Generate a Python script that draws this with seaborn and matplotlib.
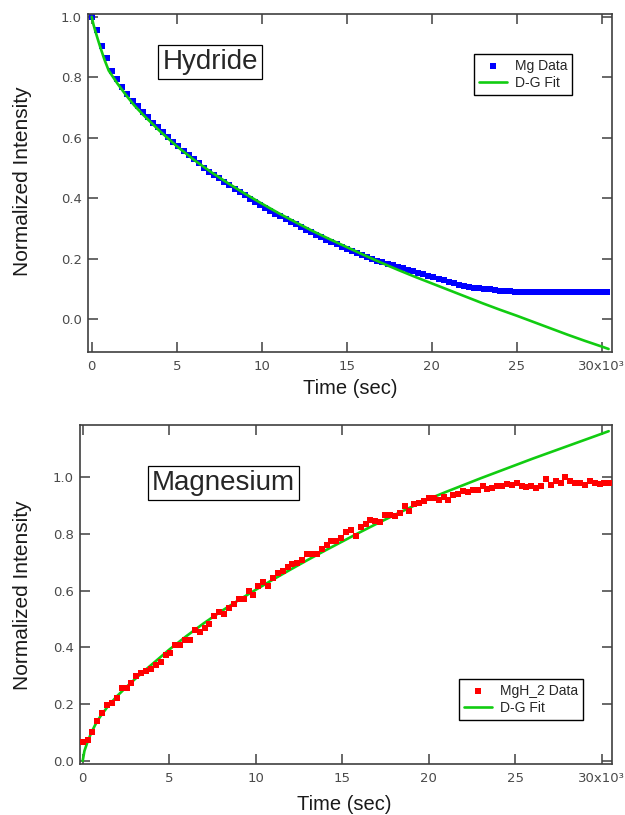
import numpy as np
import pandas as pd
import seaborn as sns
import matplotlib.pyplot as plt

# ---- top panel: hydride decay (normalized intensity), samples every ~300 s
hyd_values = [1.000, 0.955, 0.902, 0.862, 0.822, 0.793, 0.768, 0.745, 0.722, 0.704,
              0.686, 0.667, 0.649, 0.634, 0.618, 0.602, 0.587, 0.572, 0.557, 0.543,
              0.529, 0.515, 0.501, 0.488, 0.478, 0.466, 0.454, 0.442, 0.431, 0.420,
              0.409, 0.398, 0.388, 0.378, 0.368, 0.359, 0.349, 0.340, 0.331, 0.322,
              0.313, 0.304, 0.296, 0.287, 0.279, 0.271, 0.263, 0.255, 0.247, 0.239,
              0.232, 0.225, 0.218, 0.212, 0.206, 0.200, 0.193, 0.188, 0.183, 0.178,
              0.173, 0.168, 0.163, 0.158, 0.153, 0.148, 0.143, 0.138, 0.134, 0.129,
              0.124, 0.119, 0.113, 0.108, 0.106, 0.104, 0.102, 0.100, 0.098, 0.096,
              0.094, 0.093, 0.092, 0.091, 0.090, 0.090, 0.090, 0.090, 0.090, 0.090,
              0.090, 0.090, 0.090, 0.090, 0.090, 0.090, 0.090, 0.090, 0.090, 0.090,
              0.090, 0.090]
hyd_last_t = 30300

# D-G fit curve, time in 10^3 s
hyd_fit_t = [0, 0.1, 0.2, 0.35, 0.5, 0.75, 1.0, 1.5, 2.0, 2.5, 3.0, 4.0, 5.0, 6, 7, 8, 9,
             10, 11, 12, 13, 14, 15, 16, 17, 18, 19, 20, 21, 22, 23, 24, 25, 26, 27,
             28, 29, 30, 30.4]
hyd_fit_v = [1.0, 0.975, 0.955, 0.927, 0.900, 0.858, 0.822, 0.780, 0.742, 0.707, 0.677,
             0.622, 0.572, 0.527, 0.487, 0.450, 0.415, 0.382, 0.350, 0.320, 0.291,
             0.264, 0.238, 0.212, 0.187, 0.163, 0.140, 0.118, 0.096, 0.074, 0.052,
             0.031, 0.011, -0.010, -0.031, -0.052, -0.072, -0.091, -0.099]

# ---- bottom panel: magnesium growth
mg_values = [0.068, 0.074, 0.103, 0.141, 0.167, 0.196, 0.205, 0.220, 0.258, 0.257,
             0.275, 0.298, 0.308, 0.316, 0.325, 0.337, 0.348, 0.372, 0.380, 0.407,
             0.409, 0.427, 0.425, 0.461, 0.455, 0.469, 0.482, 0.512, 0.526, 0.518,
             0.540, 0.552, 0.571, 0.571, 0.600, 0.583, 0.618, 0.631, 0.616, 0.643,
             0.663, 0.669, 0.683, 0.695, 0.698, 0.709, 0.729, 0.729, 0.729, 0.746,
             0.762, 0.776, 0.776, 0.786, 0.806, 0.812, 0.794, 0.826, 0.836, 0.850,
             0.845, 0.841, 0.865, 0.865, 0.862, 0.874, 0.898, 0.881, 0.905, 0.909,
             0.916, 0.925, 0.925, 0.921, 0.931, 0.921, 0.937, 0.939, 0.952, 0.949,
             0.955, 0.955, 0.969, 0.957, 0.961, 0.969, 0.969, 0.976, 0.973, 0.979,
             0.969, 0.964, 0.969, 0.961, 0.969, 0.993, 0.973, 0.988, 0.979, 1.002,
             0.988, 0.979, 0.981, 0.973, 0.988, 0.979, 0.976, 0.978, 0.981]
mg_last_t = 30440

mg_fit_t = [0, 0.1, 0.25, 0.5, 0.75, 1.0, 1.5, 2.0, 2.5, 3.0, 3.5, 4.0, 4.5, 5, 6, 7, 8,
            9, 10, 11, 12, 13, 14, 15, 16, 17, 18, 19, 20, 21, 22, 23, 24, 25, 26, 27,
            28, 29, 30, 30.4]
mg_fit_v = [0.000, 0.035, 0.062, 0.100, 0.130, 0.155, 0.196, 0.229, 0.259, 0.287, 0.314,
            0.340, 0.366, 0.392, 0.440, 0.485, 0.527, 0.566, 0.603, 0.639, 0.674, 0.708,
            0.741, 0.773, 0.805, 0.836, 0.866, 0.895, 0.923, 0.948, 0.972, 0.996, 1.019,
            1.042, 1.065, 1.087, 1.109, 1.131, 1.153, 1.162]

x_ticks = [0, 5000, 10000, 15000, 20000, 25000, 30000]
x_labels = ['0', '5', '10', '15', '20', '25', '30x10³']
y_ticks = [0.0, 0.2, 0.4, 0.6, 0.8, 1.0]

sns.set_style('ticks')
plt.rcParams['font.family'] = ['DejaVu Sans']

hyd = pd.DataFrame({'t': np.linspace(0, hyd_last_t, len(hyd_values)), 'v': hyd_values})
hyd_fit = pd.DataFrame({'t': np.array(hyd_fit_t) * 1000, 'v': hyd_fit_v})
mg = pd.DataFrame({'t': np.linspace(0, mg_last_t, len(mg_values)), 'v': mg_values})
mg_fit = pd.DataFrame({'t': np.array(mg_fit_t) * 1000, 'v': mg_fit_v})

green = '#11cc11'
edge = '#404040'
lab_font = 'Liberation Sans'

fig = plt.figure(figsize=(6.25, 8.15), dpi=100)
ax1 = fig.add_axes([0.1413, 0.5681, 0.8384, 0.4147])
ax2 = fig.add_axes([0.128, 0.0626, 0.8517, 0.4160])

sns.scatterplot(data=hyd, x='t', y='v', ax=ax1, marker='s', s=13, color='#0000ff',
                linewidth=0, label='Mg Data')
sns.lineplot(data=hyd_fit, x='t', y='v', ax=ax1, color=green, linewidth=1.9, label='D-G Fit')

sns.scatterplot(data=mg, x='t', y='v', ax=ax2, marker='s', s=13, color='#ff0000',
                linewidth=0, label='MgH_2 Data', zorder=3)
sns.lineplot(data=mg_fit, x='t', y='v', ax=ax2, color=green, linewidth=1.9, label='D-G Fit')

ax1.set_xlim(-200, 30620)
ax1.set_ylim(-0.109, 1.009)
ax2.set_xlim(-156, 30610)
ax2.set_ylim(-0.011, 1.184)

for ax in (ax1, ax2):
    ax.set_xticks(x_ticks)
    ax.set_xticklabels(x_labels)
    ax.set_yticks(y_ticks)
    ax.set_yticklabels(['%.1f' % v for v in y_ticks])
    ax.tick_params(direction='in', length=7, width=1.1, color=edge, labelcolor='#4a4a4a',
                   labelsize=9.5, top=True, right=True)
    ax.tick_params(axis='x', pad=6)
    ax.tick_params(axis='y', pad=4.5)
    for sp in ax.spines.values():
        sp.set_visible(True)
        sp.set_color(edge)
        sp.set_linewidth(1.2)
    ax.set_xlabel('Time (sec)', fontsize=14.5, family=lab_font, color='#1a1a1a')
    ax.set_ylabel('Normalized Intensity', fontsize=15, family=lab_font, color='#1a1a1a')

ax1.xaxis.set_label_coords(0.5, -0.080)
ax1.yaxis.set_label_coords(-0.1074, 0.504)
ax2.xaxis.set_label_coords(0.497, -0.092)
ax2.yaxis.set_label_coords(-0.0902, 0.4985)

box = dict(boxstyle='square,pad=0.15', fc='white', ec='black', lw=0.9)
ax1.text(0.2323, 0.858, 'Hydride', transform=ax1.transAxes, ha='center', va='center',
         fontsize=20, family=lab_font, bbox=box)
ax2.text(0.2696, 0.829, 'Magnesium', transform=ax2.transAxes, ha='center', va='center',
         fontsize=20, family=lab_font, bbox=box)

leg_kw = dict(loc='upper left', bbox_transform=fig.transFigure, borderaxespad=0,
              fancybox=False, edgecolor='black', framealpha=1,
              prop={'family': lab_font, 'size': 10}, handlelength=2.0,
              handletextpad=0.6, labelspacing=0.2, borderpad=0.35)
leg1 = ax1.legend(bbox_to_anchor=(474 / 625, 1 - 54 / 815), **leg_kw)
leg2 = ax2.legend(bbox_to_anchor=(459 / 625, 1 - 679 / 815), **leg_kw)
for leg in (leg1, leg2):
    leg.get_frame().set_linewidth(1.0)

fig.savefig('out.png', dpi=100)
